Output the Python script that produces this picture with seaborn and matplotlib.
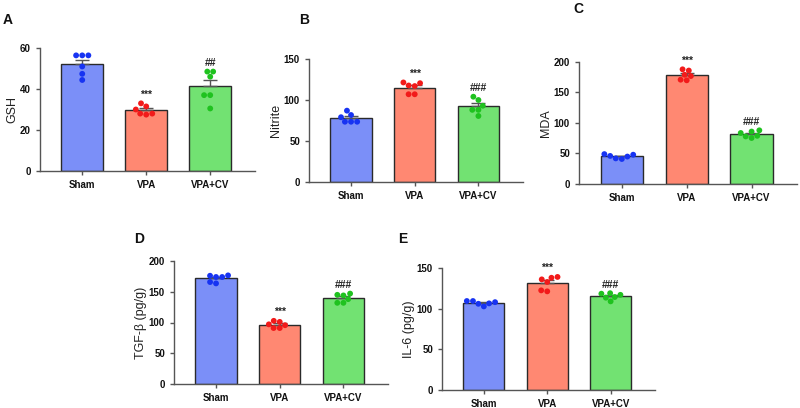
import numpy as np
import pandas as pd
import seaborn as sns
import matplotlib.pyplot as plt

# groups
groups = ['Sham', 'VPA', 'VPA+CV']

# individual values (n = 6 per group)
gsh_sham = [56.4, 56.4, 56.4, 51.0, 47.4, 44.4]
gsh_vpa = [33.0, 31.5, 30.0, 28.0, 28.0, 27.5]
gsh_cv = [48.5, 48.5, 46.0, 37.0, 37.0, 30.5]

nitrite_sham = [87.0, 81.7, 79.0, 73.5, 73.5, 73.5]
nitrite_vpa = [120.5, 121.4, 117.7, 117.0, 107.0, 107.0]
nitrite_cv = [104.0, 100.0, 93.0, 88.0, 80.5, 88.0]

mda_sham = [48.0, 46.0, 45.0, 49.0, 41.0, 42.0]
mda_vpa = [186.0, 188.0, 179.0, 177.0, 171.0, 170.0]
mda_cv = [88.0, 86.0, 83.6, 79.0, 75.4, 78.0]

tgf_sham = [176.0, 176.6, 174.0, 174.0, 163.6, 165.8]
tgf_vpa = [102.7, 101.0, 97.0, 95.6, 91.0, 91.0]
tgf_cv = [147.0, 145.0, 144.0, 138.0, 132.0, 132.0]

il6_sham = [109.4, 109.4, 108.0, 106.5, 106.0, 102.8]
il6_vpa = [139.0, 138.0, 136.0, 132.8, 122.5, 121.3]
il6_cv = [119.0, 118.4, 117.0, 114.3, 113.5, 109.0]

bar_colors = ['#7b8ff8', '#ff8872', '#72e272']
dot_colors = ['#1733f2', '#f21a1a', '#1fc21f']

plt.rcParams['font.family'] = ['Liberation Sans', 'DejaVu Sans']

fig = plt.figure(figsize=(8, 4.08), dpi=100)
W, H = 800, 408


def make_ax(l, r, t, b):
    return fig.add_axes([l / W, (H - b) / H, (r - l) / W, (b - t) / H])


# letter, y label, values, y max, tick step, marks, axes box (px), letter pos (px)
panels = [
    ('A', 'GSH', [gsh_sham, gsh_vpa, gsh_cv], 60, 20, ['***', '##'], (40, 255, 48, 171), (3, 20)),
    ('B', 'Nitrite', [nitrite_sham, nitrite_vpa, nitrite_cv], 150, 50, ['***', '###'], (309, 523, 59, 182), (299, 20)),
    ('C', 'MDA', [mda_sham, mda_vpa, mda_cv], 200, 50, ['***', '###'], (579, 797, 62, 184), (573, 9)),
    ('D', 'TGF-β (pg/g)', [tgf_sham, tgf_vpa, tgf_cv], 200, 50, ['***', '###'], (174, 388, 261, 384), (134, 239)),
    ('E', 'IL-6 (pg/g)', [il6_sham, il6_vpa, il6_cv], 150, 50, ['***', '###'], (442, 655, 268, 390), (398, 239)),
]

for letter, ylabel, vals, ymax, step, marks, box, lpos in panels:
    ax = make_ax(*box)
    df = pd.DataFrame({
        'group': np.repeat(groups, 6),
        'value': np.concatenate(vals),
    })
    sns.barplot(data=df, x='group', y='value', hue='group', order=groups,
                palette=bar_colors, saturation=1, errorbar=None, width=0.65,
                edgecolor='#2a2a2a', linewidth=1.0, legend=False, ax=ax)
    means = df.groupby('group')['value'].mean().reindex(groups).values
    sems = df.groupby('group')['value'].sem().reindex(groups).values
    ax.errorbar(range(3), means, yerr=[np.zeros(3), sems], fmt='none',
                ecolor='#555555', elinewidth=1.0, capsize=5, capthick=1.0, zorder=3)
    sns.swarmplot(data=df, x='group', y='value', hue='group', order=groups,
                  palette=dot_colors, size=4.2, legend=False, ax=ax, zorder=4)

    # significance marks
    for i, m in zip([1, 2], marks):
        top = max(max(vals[i]), means[i] + sems[i])
        ax.text(i, top + ymax * 0.03, m, ha='center', va='bottom',
                fontsize=7.5, fontweight='bold', color='#222222')

    ax.set_xlim(-0.66, 2.7)
    ax.set_ylim(0, ymax)
    ax.set_yticks(np.arange(0, ymax + 1, step))
    ax.set_xlabel('')
    ax.set_ylabel(ylabel, fontsize=9, color='#222222', labelpad=1)
    sns.despine(ax=ax)
    for s in ['left', 'bottom']:
        ax.spines[s].set_color('#555555')
        ax.spines[s].set_linewidth(1.0)
    ax.tick_params(axis='both', colors='#555555', width=1.0, length=3,
                   labelsize=7, labelcolor='#111111')
    for lab in ax.get_xticklabels() + ax.get_yticklabels():
        lab.set_fontweight('bold')
    fig.text(lpos[0] / W, 1 - lpos[1] / H, letter, ha='left', va='center',
             fontsize=10, fontweight='bold', color='#111111')

fig.savefig('out.png', dpi=100)
